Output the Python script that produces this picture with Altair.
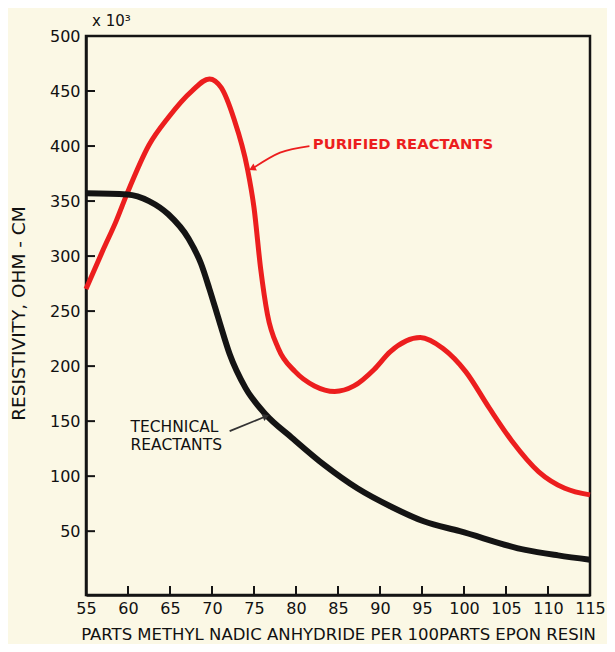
import altair as alt
import pandas as pd

# ---- data ----
red_x = [55, 57.0, 58.6, 59.9, 62.5, 64.8, 67.6, 69.7, 71.1, 72.6, 74.2, 75.0, 75.8, 76.6, 77.9,
         79.9, 82.2, 84.6, 86.9, 89.3, 91.2, 94.8, 97.5, 100.2, 103.0, 105.7, 108.9, 112.0, 115]
red_y = [270, 305, 332, 357, 401, 426, 450, 461, 453, 425, 380, 344, 288, 247, 216,
         195, 182, 177, 182, 197, 213, 226, 216, 195, 162, 132, 104, 89, 83]

black_x = [55, 59.9, 62.5, 64.8, 67.2, 68.7, 69.7, 70.9, 72.1, 74.0, 76.4, 79.5, 83.4,
           87.3, 91.4, 95.2, 99.5, 107.3, 111.2, 115]
black_y = [357, 356, 350, 338, 316, 293, 270, 240, 211, 180, 156, 135, 110,
           89, 72, 59, 50, 33, 28, 24]

x_ticks = [55, 60, 65, 70, 75, 80, 85, 90, 95, 100, 105, 110, 115]
y_ticks = [50, 100, 150, 200, 250, 300, 350, 400, 450, 500]

# annotation anchors (data units)
pur_arrow_x = [81.6, 78.1, 74.9]
pur_arrow_y = [400, 394, 380]
tech_arrow_x = [72.1, 76.3]
tech_arrow_y = [141, 154]

W, H = 504, 559
RED = "#EC1E1E"
BLACK = "#141414"
FONT = "DejaVu Sans"

xs = alt.Scale(domain=[55, 115], nice=False, zero=False)
ys = alt.Scale(domain=[-8, 500], nice=False, zero=False)

red_df = pd.DataFrame({"x": red_x, "y": red_y})
black_df = pd.DataFrame({"x": black_x, "y": black_y})

base_x = alt.X("x:Q", scale=xs,
               axis=alt.Axis(values=x_ticks, title="PARTS METHYL NADIC ANHYDRIDE PER 100PARTS EPON RESIN",
                             tickSize=0, labelPadding=5, labelFontSize=16, labelFont=FONT,
                             labelColor="#111", labelFlush=False, grid=False,
                             domainColor=BLACK, domainWidth=2.5,
                             titleFont=FONT, titleFontSize=16.5, titleFontWeight="normal",
                             titleColor="#111", titlePadding=10))
base_y = alt.Y("y:Q", scale=ys,
               axis=alt.Axis(values=y_ticks, title="RESISTIVITY, OHM - CM",
                             tickSize=0, labelPadding=6, labelFontSize=16, labelFont=FONT,
                             labelColor="#111", grid=False,
                             domainColor=BLACK, domainWidth=2.5,
                             titleFont=FONT, titleFontSize=18.5, titleFontWeight="normal",
                             titleColor="#111", titleAngle=-90, titleX=-68, titleY=277,
                             titleAlign="center", titleBaseline="middle"))

red_line = alt.Chart(red_df).mark_line(color=RED, strokeWidth=5, interpolate="monotone").encode(
    x=base_x, y=base_y)
black_line = alt.Chart(black_df).mark_line(color=BLACK, strokeWidth=6, interpolate="monotone").encode(
    x=alt.X("x:Q", scale=xs), y=alt.Y("y:Q", scale=ys))

# inward ticks
yt = alt.Chart(pd.DataFrame({"y": y_ticks})).mark_rule(color=BLACK, strokeWidth=2).encode(
    y=alt.Y("y:Q", scale=ys), x=alt.value(0), x2=alt.value(9))
xt = alt.Chart(pd.DataFrame({"x": x_ticks[1:-1]})).mark_rule(color=BLACK, strokeWidth=2).encode(
    x=alt.X("x:Q", scale=xs), y=alt.value(H), y2=alt.value(H - 9))

# annotations
pur_arrow = alt.Chart(pd.DataFrame({"x": pur_arrow_x, "y": pur_arrow_y, "o": [0, 1, 2]})).mark_line(
    color=RED, strokeWidth=1.8, interpolate="monotone").encode(
    x=alt.X("x:Q", scale=xs), y=alt.Y("y:Q", scale=ys), order="o:Q")
pur_head = alt.Chart(pd.DataFrame({"x": [pur_arrow_x[-1]], "y": [pur_arrow_y[-1]]})).mark_point(
    shape="triangle", filled=True, color=RED, size=60, angle=243, opacity=1).encode(
    x=alt.X("x:Q", scale=xs), y=alt.Y("y:Q", scale=ys))
pur_text = alt.Chart(pd.DataFrame({"x": [82.0], "y": [401], "t": ["PURIFIED REACTANTS"]})).mark_text(
    color=RED, font=FONT, fontSize=14.8, align="left", baseline="middle", fontWeight="bold").encode(
    x=alt.X("x:Q", scale=xs), y=alt.Y("y:Q", scale=ys), text="t:N")

tech_arrow = alt.Chart(pd.DataFrame({"x": tech_arrow_x, "y": tech_arrow_y})).mark_line(
    color="#333", strokeWidth=1.8).encode(x=alt.X("x:Q", scale=xs), y=alt.Y("y:Q", scale=ys))
tech_head = alt.Chart(pd.DataFrame({"x": [tech_arrow_x[-1]], "y": [tech_arrow_y[-1]]})).mark_point(
    shape="triangle", filled=True, color="#333", size=55, angle=68, opacity=1).encode(
    x=alt.X("x:Q", scale=xs), y=alt.Y("y:Q", scale=ys))
tech_text = alt.Chart(pd.DataFrame({"x": [60.3, 60.3], "y": [145, 128],
                                    "t": ["TECHNICAL", "REACTANTS"]})).mark_text(
    color="#111", font=FONT, fontSize=15.5, align="left", baseline="middle").encode(
    x=alt.X("x:Q", scale=xs), y=alt.Y("y:Q", scale=ys), text="t:N")

scale_text = alt.Chart(pd.DataFrame({"t": ["x 10³"]})).mark_text(
    color="#111", font=FONT, fontSize=15, align="left", baseline="alphabetic").encode(
    x=alt.value(6), y=alt.value(-10), text="t:N")

chart = alt.layer(red_line, black_line, yt, xt, pur_arrow, pur_head, pur_text,
                  tech_arrow, tech_head, tech_text, scale_text).properties(
    width=W, height=H,
    autosize=alt.AutoSizeParams(type="none"),
    padding={"left": 78, "top": 28, "right": 17, "bottom": 49},
    background="#FBF8E5",
).configure_view(stroke=BLACK, strokeWidth=2.5)

chart.save("out.html", embed_options={"renderer": "svg", "actions": False})
